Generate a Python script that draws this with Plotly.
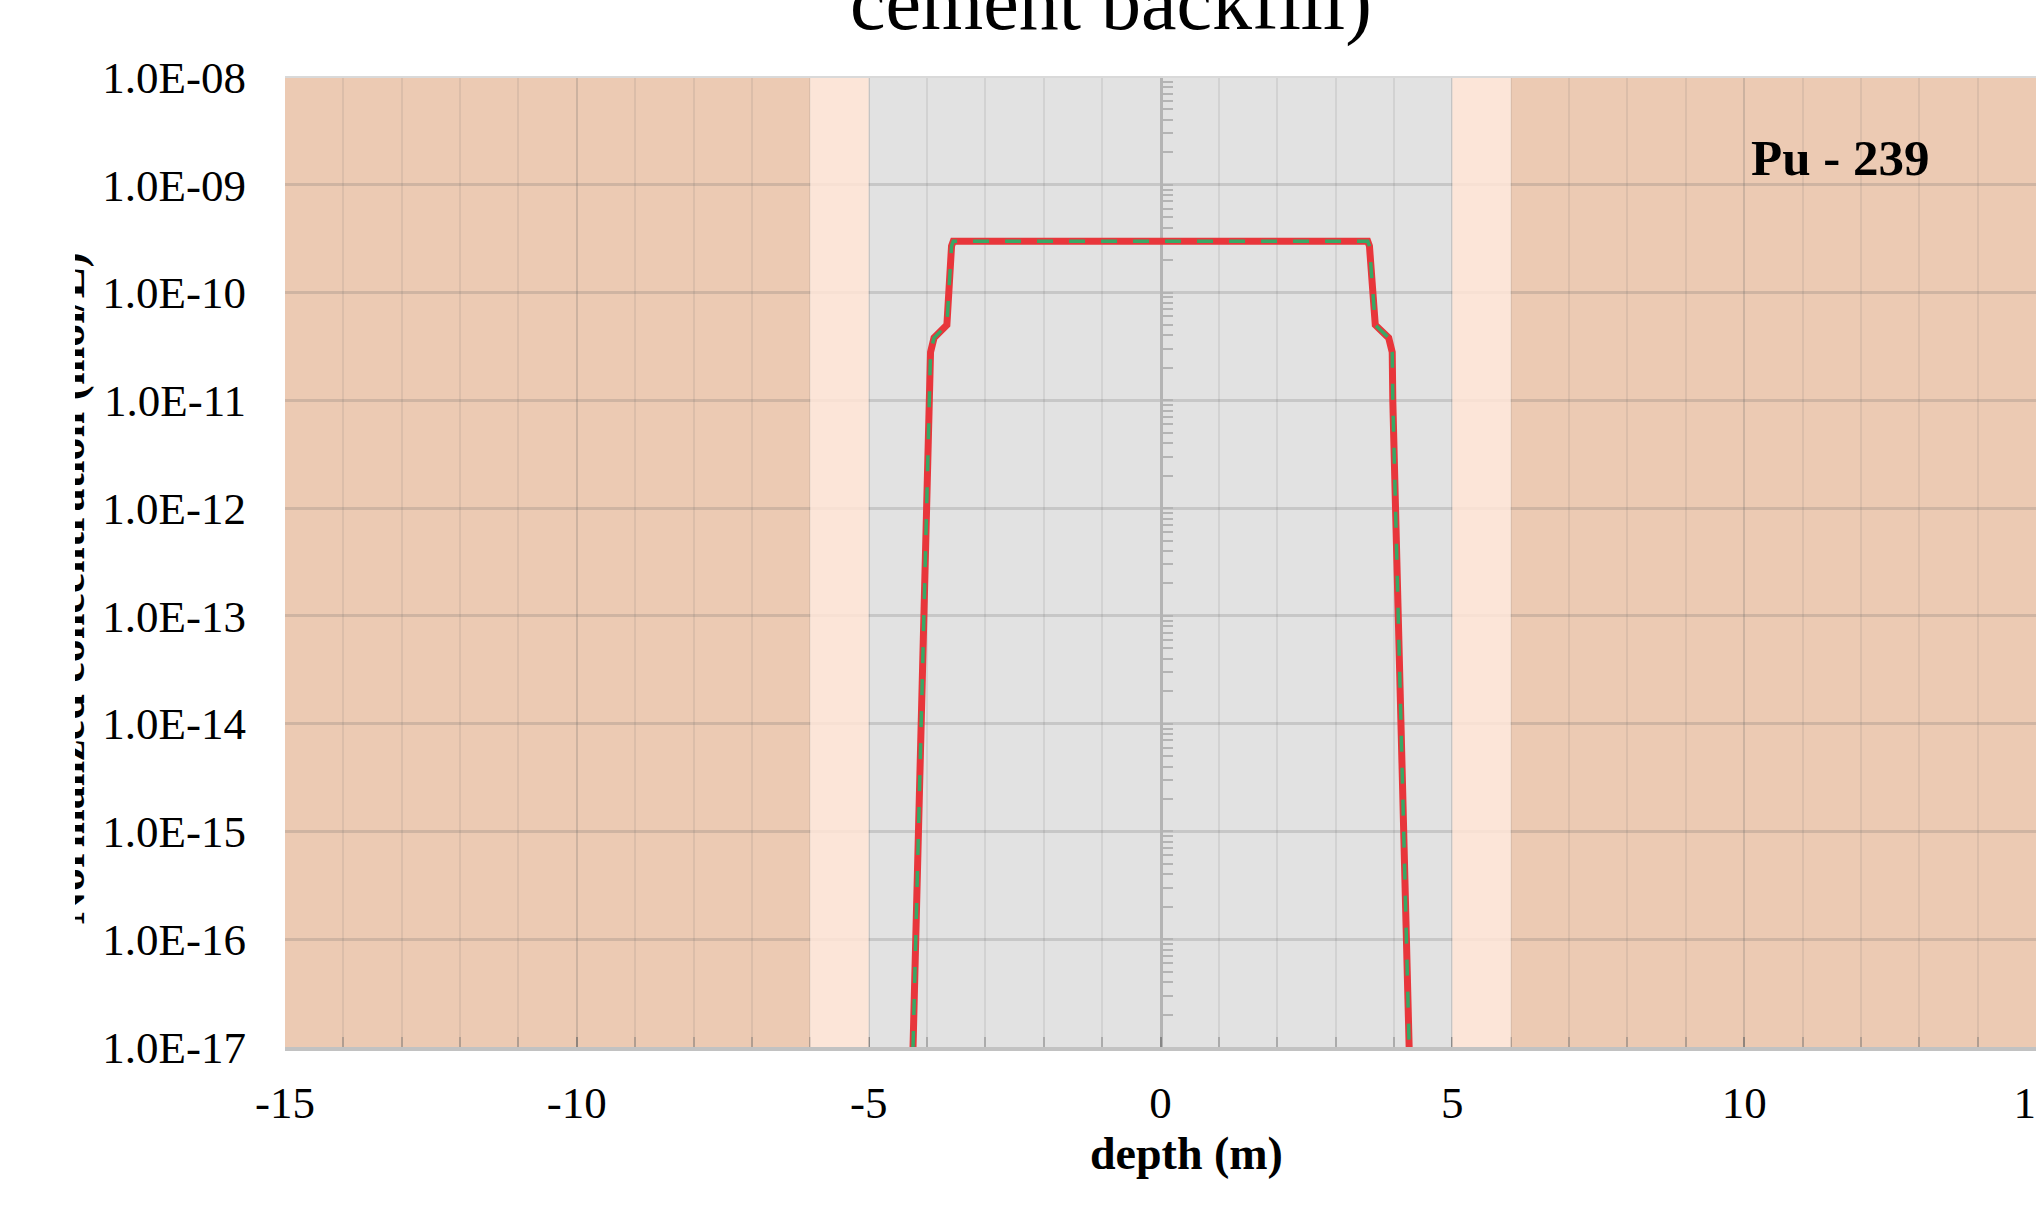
import plotly.graph_objects as go

# ---------------- data ----------------
depth = [-4.24, -4.10, -3.97, -3.94, -3.88, -3.66, -3.58, -3.55, -3.0, -2.0, -1.0, 0.0,
         1.0, 2.0, 3.0, 3.55, 3.58, 3.68, 3.91, 3.97, 3.98, 4.12, 4.26]
conc_a = [1e-17, 1e-14, 1.0e-11, 2.8e-11, 3.8e-11, 5.0e-11, 2.7e-10, 3.0e-10, 3.0e-10, 3.0e-10,
          3.0e-10, 3.0e-10, 3.0e-10, 3.0e-10, 3.0e-10, 3.0e-10, 2.7e-10, 5.0e-11, 3.8e-11,
          2.8e-11, 1.0e-11, 1e-14, 1e-17]
conc_b = list(conc_a)

y_tickvals = [1e-17, 1e-16, 1e-15, 1e-14, 1e-13, 1e-12, 1e-11, 1e-10, 1e-09, 1e-08]
y_ticktext = ["1.0E-17", "1.0E-16", "1.0E-15", "1.0E-14", "1.0E-13", "1.0E-12",
              "1.0E-11", "1.0E-10", "1.0E-09", "1.0E-08"]
x_tickvals = [-15, -10, -5, 0, 5, 10, 15]
x_ticktext = ["-15", "-10", "-5", "0", "5", "10", "15"]

# zones (depth ranges)
host_zones = [(-15, -6), (6, 15)]
buffer_zones = [(-6, -5), (5, 6)]
core_zone = (-5, 5)

title_text = "cement backfill)"
ytitle_text = "Normalized concentration (mol/L)"
xtitle_text = "depth (m)"
label_text = "Pu - 239"

# ---------------- layout geometry ----------------
W, H = 2036, 1214
T, B = 77, 167
PLOT_LEFT = 285
X_MIN, X_MAX = -15, 15


def px_x(p):
    return p / W


def px_y(p):
    return (H - B - p) / (H - T - B)


zero_px = PLOT_LEFT + (0 - X_MIN) / (X_MAX - X_MIN) * (W - PLOT_LEFT)

SERIF = "Liberation Serif"
TAN = "#ECCAB3"
PEACH = "#FCE0D1"
GRAY = "#E2E2E2"
RED = "#E8363B"
GREEN = "#38A865"

fig = go.Figure()

fig.add_trace(go.Scatter(x=depth, y=conc_a, mode="lines",
                         line=dict(color=RED, width=7), showlegend=False,
                         hoverinfo="skip", xaxis="x", yaxis="y"))
fig.add_trace(go.Scatter(x=depth, y=conc_b, mode="lines",
                         line=dict(color=GREEN, width=3.5, dash="16px,16px"),
                         showlegend=False, hoverinfo="skip", xaxis="x", yaxis="y2"))

# clipped rotated y-axis title (only a thin strip is visible in the reference)
fig.add_trace(go.Bar(x=[68], y=[0.946], base=[0], width=[100],
                     xaxis="x3", yaxis="y3",
                     marker=dict(color="rgba(0,0,0,0)", line=dict(width=0)),
                     text=[ytitle_text], textposition="inside", textangle=-90,
                     insidetextanchor="middle", constraintext="none",
                     textfont=dict(family=SERIF, size=46, color="black", weight="bold"),
                     cliponaxis=True, showlegend=False, hoverinfo="skip"))

shapes = []
shapes.append(dict(type="rect", xref="x", yref="y domain", x0=core_zone[0], x1=core_zone[1],
                   y0=0, y1=1, fillcolor=GRAY, line=dict(width=0), layer="below"))
for z0, z1 in host_zones:
    shapes.append(dict(type="rect", xref="x", yref="y domain", x0=z0, x1=z1, y0=0, y1=1,
                       fillcolor=TAN, line=dict(width=0), layer="below"))
for z0, z1 in buffer_zones:
    shapes.append(dict(type="rect", xref="x", yref="y domain", x0=z0, x1=z1, y0=0, y1=1,
                       fillcolor=PEACH, opacity=0.85, line=dict(width=0), layer="above"))
shapes.append(dict(type="line", xref="x domain", yref="y domain", x0=0, x1=1, y0=1, y1=1,
                   line=dict(color="#D9D9D9", width=2), layer="above"))

annotations = [
    dict(text=title_text, x=px_x(1111), y=px_y(2), xref="paper", yref="paper",
         xanchor="center", yanchor="middle", showarrow=False,
         font=dict(family=SERIF, size=80, color="black")),
    dict(text=label_text, x=px_x(1840), y=px_y(158), xref="paper", yref="paper",
         xanchor="center", yanchor="middle", showarrow=False,
         font=dict(family=SERIF, size=51, color="black", weight="bold")),
    dict(text=xtitle_text, x=px_x(1186), y=px_y(1153), xref="paper", yref="paper",
         xanchor="center", yanchor="middle", showarrow=False,
         font=dict(family=SERIF, size=46, color="black", weight="bold")),
]

grid_major = "rgba(100,100,100,0.21)"
grid_minor = "rgba(100,100,100,0.12)"
tick_col = "rgba(100,100,100,0.35)"

fig.update_layout(
    width=W, height=H,
    margin=dict(l=0, r=0, t=T, b=B, pad=0),
    paper_bgcolor="white", plot_bgcolor="white",
    template="none",
    showlegend=False,
    shapes=shapes,
    annotations=annotations,
    xaxis=dict(domain=[px_x(PLOT_LEFT), 1], range=[X_MIN, X_MAX],
               tickvals=x_tickvals, ticktext=x_ticktext,
               ticks="inside", ticklen=10, tickcolor=tick_col, tickwidth=2,
               showgrid=True, gridcolor=grid_minor, gridwidth=2,
               minor=dict(dtick=1, tick0=0, ticks="inside", ticklen=10, tickcolor=tick_col,
                          tickwidth=2, showgrid=True, gridcolor=grid_minor, gridwidth=2),
               showline=True, linecolor="#C2C2C2", linewidth=4,
               zeroline=False, automargin=False, ticklabeloverflow="allow",
               tickfont=dict(family=SERIF, size=45, color="black"),
               ticklabelstandoff=13, anchor="y"),
    yaxis=dict(type="log", range=[-17, -8], tickvals=y_tickvals, ticktext=y_ticktext,
               ticks="", showgrid=True, gridcolor=grid_major, gridwidth=3,
               showline=False, zeroline=False, automargin=False,
               tickfont=dict(family=SERIF, size=45, color="black"),
               ticklabelstandoff=38, anchor="x"),
    yaxis2=dict(type="log", range=[-17, -8], overlaying="y", anchor="free",
                position=px_x(zero_px), side="left", showgrid=False, zeroline=False,
                showticklabels=False, showline=True, linecolor="#B4B4B4", linewidth=3,
                tickvals=y_tickvals, ticks="inside", ticklen=10, tickcolor="#B4B4B4",
                tickwidth=2, layer="below traces",
                minor=dict(ticks="inside", ticklen=10, tickcolor="#B4B4B4", tickwidth=2,
                           dtick="D1", showgrid=False),
                automargin=False),
    xaxis3=dict(domain=[px_x(75), px_x(96)], range=[75, 96], visible=False,
                anchor="y3", fixedrange=True),
    yaxis3=dict(domain=[0, 1], range=[0, 1], visible=False, anchor="x3", fixedrange=True),
)

fig.write_html("out.html")
